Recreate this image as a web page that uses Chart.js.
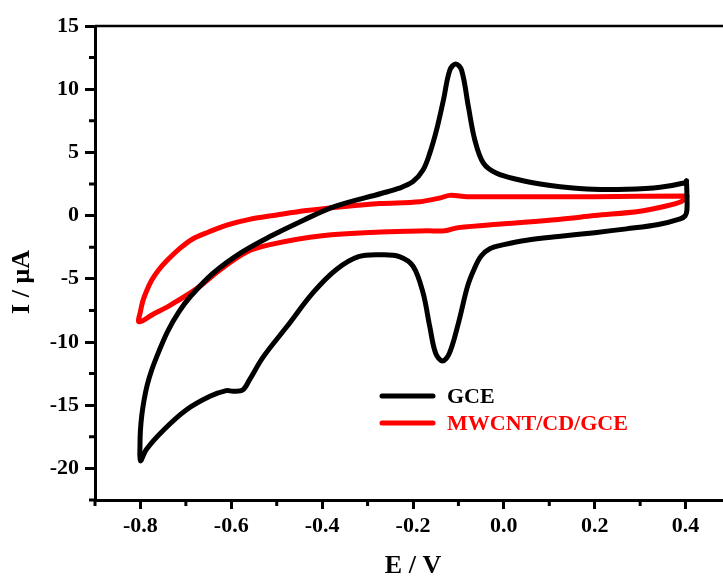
<!DOCTYPE html>
<html>
<head>
<meta charset="utf-8">
<script src="https://cdn.jsdelivr.net/npm/chart.js@4/dist/chart.umd.min.js"></script>
<style>
  html, body { margin: 0; padding: 0; background: #fff; overflow: hidden; }
  #wrap { width: 760px; height: 578px; }
</style>
</head>
<body>
<div id="wrap"><canvas id="c" width="760" height="578"></canvas></div>
<script>
// ---- Data ----
const seriesNames = ["GCE", "MWCNT/CD/GCE"];
const seriesColors = ["#000000", "#ff0000"];

// GCE cyclic voltammogram: potentials (V) and currents (µA), traced as a closed loop
const gceE = [0.402, 0.403, 0.403, 0.399, 0.388, 0.34, 0.27, 0.20, 0.12, 0.05, 0.00, -0.03, -0.05, -0.065, -0.08, -0.10, -0.12, -0.135, -0.15, -0.163, -0.178, -0.20, -0.23, -0.27, -0.32, -0.37, -0.42, -0.478, -0.53, -0.56, -0.575, -0.596, -0.611, -0.647, -0.70, -0.75, -0.787, -0.80,
  -0.801, -0.800, -0.797, -0.792, -0.785, -0.775, -0.76, -0.74, -0.715, -0.69, -0.64, -0.58, -0.515, -0.44, -0.37, -0.27, -0.23, -0.20, -0.178, -0.163, -0.148, -0.133, -0.119, -0.106, -0.093, -0.078, -0.064, -0.045, -0.016, 0.035, 0.08, 0.124, 0.197, 0.27, 0.344, 0.399, 0.402];
const gceI = [2.75, 1.64, 0.45, -0.02, -0.25, -0.7, -1.05, -1.35, -1.65, -1.95, -2.3, -2.6, -3.2, -4.2, -5.6, -8.5, -10.9, -11.5, -10.9, -8.8, -6.1, -4.0, -3.24, -3.1, -3.25, -4.3, -6.1, -8.8, -11.2, -13.0, -13.8, -13.9, -13.85, -14.3, -15.4, -17.0, -18.5, -19.4,
  -18.2, -17.0, -15.8, -14.6, -13.4, -12.2, -10.8, -9.15, -7.6, -6.4, -4.56, -2.97, -1.66, -0.34, 0.75, 1.75, 2.17, 2.69, 3.6, 4.94, 6.8, 9.15, 11.5, 12.0, 11.5, 8.6, 6.0, 4.15, 3.35, 2.82, 2.5, 2.29, 2.09, 2.09, 2.25, 2.6, 2.75];

// MWCNT/CD/GCE cyclic voltammogram
const mwE = [0.403, 0.39, 0.35, 0.30, 0.20, 0.12, 0.00, -0.10, -0.13, -0.17, -0.27, -0.40, -0.515, -0.567, -0.625, -0.677, -0.735, -0.772, -0.803,
  -0.800, -0.795, -0.787, -0.775, -0.76, -0.74, -0.715, -0.685, -0.65, -0.61, -0.56, -0.50, -0.434, -0.35, -0.273, -0.185, -0.14, -0.119, -0.08, 0.08, 0.20, 0.40, 0.403];
const mwI = [1.5, 1.1, 0.7, 0.35, 0.0, -0.3, -0.65, -0.95, -1.2, -1.2, -1.3, -1.6, -2.3, -2.9, -4.3, -5.8, -7.1, -7.8, -8.4,
  -7.6, -6.8, -6.0, -5.1, -4.3, -3.5, -2.65, -1.85, -1.3, -0.75, -0.3, 0.05, 0.4, 0.72, 0.95, 1.1, 1.4, 1.6, 1.5, 1.5, 1.5, 1.55, 1.5];

// Axis ticks and titles
const xTicks = [-0.8, -0.6, -0.4, -0.2, 0.0, 0.2, 0.4];
const xMinorTicks = [-0.9, -0.7, -0.5, -0.3, -0.1, 0.1, 0.3, 0.5];
const yTicks = [-20, -15, -10, -5, 0, 5, 10, 15];
const yMinorTicks = [-22.5, -17.5, -12.5, -7.5, -2.5, 2.5, 7.5, 12.5];
const xTitle = "E / V";
const yTitle = "I / μA";

const FONT = "'Liberation Serif', 'Times New Roman', serif";

function pts(xs, ys) { return xs.map((x, i) => ({ x: x, y: ys[i] })); }

const extras = {
  id: 'extras',
  afterDraw(chart) {
    const ctx = chart.ctx;
    const xs = chart.scales.x, ys = chart.scales.y;
    const a = chart.chartArea;
    ctx.save();
    // top border
    ctx.strokeStyle = '#000';
    ctx.lineWidth = 2.5;
    ctx.beginPath();
    ctx.moveTo(a.left, a.top);
    ctx.lineTo(a.right + 40, a.top);
    ctx.stroke();
    // minor ticks
    ctx.lineWidth = 3;
    ctx.beginPath();
    yMinorTicks.forEach(v => {
      const p = ys.getPixelForValue(v);
      ctx.moveTo(a.left - 6, p); ctx.lineTo(a.left, p);
    });
    xMinorTicks.forEach(v => {
      const p = xs.getPixelForValue(v);
      ctx.moveTo(p, a.bottom); ctx.lineTo(p, a.bottom + 6);
    });
    ctx.stroke();
    // axis titles
    ctx.fillStyle = '#000';
    ctx.font = "bold 26px " + FONT;
    ctx.textAlign = 'center';
    ctx.textBaseline = 'middle';
    ctx.fillText(xTitle, (a.left + a.right) / 2, 566);
    ctx.save();
    ctx.translate(22, 282);
    ctx.rotate(-Math.PI / 2);
    ctx.fillText(yTitle, 0, 0);
    ctx.restore();
    // legend
    const rows = [396, 423];
    chart.data.datasets.forEach((ds, i) => {
      const y = rows[i];
      ctx.strokeStyle = ds.borderColor;
      ctx.lineWidth = 5;
      ctx.lineCap = 'round';
      ctx.beginPath();
      ctx.moveTo(382, y); ctx.lineTo(433, y);
      ctx.stroke();
      ctx.fillStyle = ds.borderColor;
      ctx.font = "bold 22px " + FONT;
      ctx.textAlign = 'left';
      ctx.textBaseline = 'middle';
      ctx.fillText(ds.label, 447, y + 1);
    });
    ctx.restore();
  }
};

new Chart(document.getElementById('c'), {
  type: 'scatter',
  data: {
    datasets: [
      { label: seriesNames[0], data: pts(gceE, gceI), borderColor: seriesColors[0], backgroundColor: seriesColors[0],
        showLine: true, pointRadius: 0, borderWidth: 5, tension: 0.35, borderJoinStyle: 'round', borderCapStyle: 'round' },
      { label: seriesNames[1], data: pts(mwE, mwI), borderColor: seriesColors[1], backgroundColor: seriesColors[1],
        showLine: true, pointRadius: 0, borderWidth: 5, tension: 0.35, borderJoinStyle: 'round', borderCapStyle: 'round' }
    ]
  },
  options: {
    responsive: false,
    animation: false,
    layout: { padding: { top: 26, right: 29, left: 0, bottom: 0 } },
    plugins: { legend: { display: false }, tooltip: { enabled: false } },
    scales: {
      x: {
        type: 'linear', min: -0.9, max: 0.5,
        afterBuildTicks: s => { s.ticks = xTicks.map(v => ({ value: v })); },
        afterFit: s => { s.height = 78; },
        ticks: { color: '#000', font: { family: FONT, size: 22, weight: 'bold' }, padding: 4,
          callback: v => v.toFixed(1), maxRotation: 0 },
        grid: { drawOnChartArea: false, tickLength: 9, tickWidth: 3, tickColor: '#000' },
        border: { display: true, color: '#000', width: 3 }
      },
      y: {
        type: 'linear', min: -22.5, max: 15,
        afterBuildTicks: s => { s.ticks = yTicks.map(v => ({ value: v })); },
        afterFit: s => { s.width = 95; },
        ticks: { color: '#000', font: { family: FONT, size: 22, weight: 'bold' }, padding: 6 },
        grid: { drawOnChartArea: false, tickLength: 10, tickWidth: 3, tickColor: '#000' },
        border: { display: true, color: '#000', width: 3 }
      }
    }
  },
  plugins: [extras]
});
</script>
</body>
</html>
